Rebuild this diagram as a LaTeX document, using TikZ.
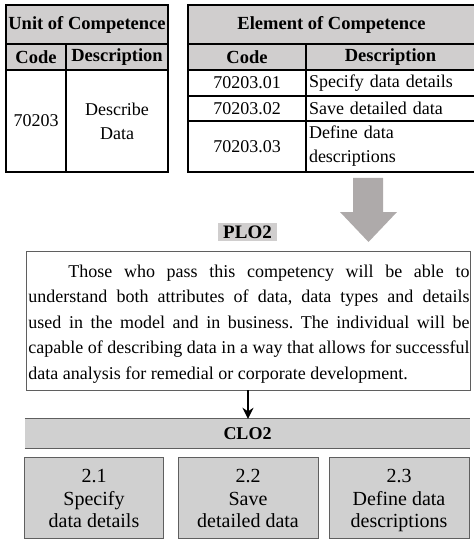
\documentclass[tikz,border=0pt]{standalone}
\usepackage{fontspec}
\setmainfont{Liberation Serif}
\usetikzlibrary{arrows.meta}
\definecolor{hdr}{RGB}{208,206,206}
\definecolor{arrgray}{RGB}{174,170,170}
\definecolor{framegray}{RGB}{95,95,95}
\definecolor{boxfill}{RGB}{208,208,208}
\definecolor{plofill}{RGB}{208,206,206}
\frenchspacing
\begin{document}
\begin{tikzpicture}[x=1bp,y=-1bp,
  cell/.style={draw=black, line width=1.5bp, inner sep=0pt, outer sep=0pt, align=center,
    font=\fontsize{18bp}{24bp}\selectfont},
  hcell/.style={cell, fill=hdr, font=\fontsize{18.5bp}{22bp}\selectfont\bfseries},
  lcell/.style={cell, align=left, inner xsep=3bp},
  clobox/.style={draw=framegray, line width=1bp, fill=boxfill, inner sep=0pt, align=center,
    minimum height=81bp, font=\fontsize{20bp}{22.5bp}\selectfont},
  barline/.style={draw=framegray, line width=1.3bp}
]
\useasboundingbox (0,0) rectangle (474,544);
% ---- Unit of Competence table
\node[hcell, minimum width=162bp, minimum height=39bp] (uh) at (87,24.5) {Unit of Competence};
\node[hcell, minimum width=60bp, minimum height=26bp] (ucode) at (36,57) {Code};
\node[hcell, minimum width=102bp, minimum height=26bp] (udesc) at (117,57) {Description};
\node[cell, minimum width=60bp, minimum height=102bp] (unum) at (36,121) {70203};
\node[cell, minimum width=102bp, minimum height=102bp] (uname) at (117,121) {Describe\\Data};
% ---- Element of Competence table
\node[hcell, minimum width=287bp, minimum height=39bp] (eh) at (331.5,24.5) {Element of Competence};
\node[hcell, minimum width=118bp, minimum height=26bp] (ecode) at (247,57) {Code};
\node[hcell, minimum width=169bp, minimum height=26bp] (edesc) at (390.5,57) {Description};
\node[cell, minimum width=118bp, minimum height=26bp] (c1) at (247,83) {70203.01};
\node[lcell, text width=163bp, minimum height=26bp] (d1) at (390.5,83) {Specify data details};
\node[cell, minimum width=118bp, minimum height=25bp] (c2) at (247,108.5) {70203.02};
\node[lcell, text width=163bp, minimum height=25bp] (d2) at (390.5,108.5) {Save detailed data};
\node[cell, minimum width=118bp, minimum height=51bp] (c3) at (247,146.5) {70203.03};
\node[lcell, text width=163bp, minimum height=51bp] (d3) at (390.5,146.5) {Define data\\descriptions};
% ---- big arrow
\fill[arrgray] (353,178) -- (383,178) -- (383,212) -- (397,212) -- (368.5,242) -- (340,212) -- (353,212) -- cycle;
% ---- PLO2
\node[fill=plofill, minimum width=59bp, minimum height=18bp, inner sep=0pt,
  font=\fontsize{19bp}{20bp}\selectfont\bfseries] (plo) at (247.5,232) {PLO2};
% ---- text box
\node[draw=framegray, line width=0.9bp, minimum width=444bp, minimum height=139bp, inner sep=0pt] (tb) at (248,320.5) {};
\node[text width=441bp, align=justify, inner sep=0pt, font=\fontsize{18bp}{25.5bp}\selectfont] (tbt) at (249,324)
{\hspace*{40bp}Those who pass this competency will be able to\linebreak
understand both attributes of data, data types and details\linebreak
used in the model and in business. The individual will be\linebreak
capable of describing data in a way that allows for successful\linebreak
data analysis for remedial or corporate development.};
% ---- CLO2 bar
\node[fill=boxfill, minimum width=445bp, minimum height=29bp, inner sep=0pt,
  font=\fontsize{18bp}{20bp}\selectfont\bfseries] (clo) at (247.5,433.5) {CLO2};
\draw[barline] (clo.north west) -- (clo.north east);
\draw[barline] (clo.south west) -- (clo.south east);
\draw[line width=1.6bp, -{Stealth[length=11bp,width=11bp]}] (tb.south) -- (tb.south |- clo.north);
% ---- CLO boxes
\node[clobox, minimum width=138bp] (b1) at (94,497.5) {\strut 2.1\\Specify\\data details};
\node[clobox, minimum width=140bp] (b2) at (248,497.5) {\strut 2.2\\Save\\detailed data};
\node[clobox, minimum width=140bp] (b3) at (399,497.5) {\strut 2.3\\Define data\\\raisebox{0pt}[\height][0pt]{descriptions}};
\end{tikzpicture}
\end{document}
